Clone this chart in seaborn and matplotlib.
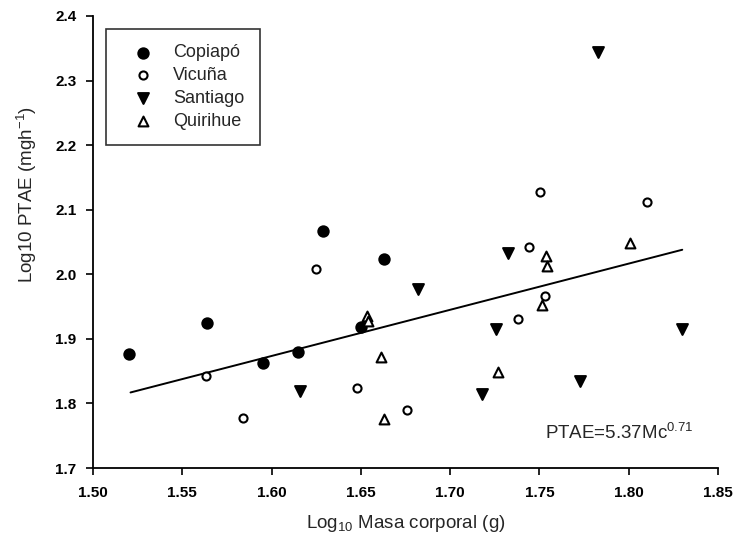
import matplotlib
matplotlib.use("Agg")
import matplotlib.pyplot as plt
import seaborn as sns
import pandas as pd

# Values
copiapoX = [1.520, 1.564, 1.595, 1.615, 1.629, 1.650, 1.663]
copiapoY = [1.877, 1.924, 1.863, 1.879, 2.067, 1.918, 2.024]

vicunaX = [1.563, 1.584, 1.625, 1.648, 1.676, 1.738, 1.744, 1.7505, 1.753, 1.810]
vicunaY = [1.842, 1.777, 2.008, 1.824, 1.790, 1.930, 2.042, 2.128, 1.967, 2.112]

santiagoX = [1.616, 1.682, 1.718, 1.7256, 1.7325, 1.7725, 1.7826, 1.8296]
santiagoY = [1.820, 1.977, 1.814, 1.915, 2.033, 1.835, 2.344, 1.915]

quirihueX = [1.6536, 1.654, 1.661, 1.663, 1.727, 1.7516, 1.7535, 1.754, 1.801]
quirihueY = [1.935, 1.927, 1.872, 1.776, 1.849, 1.953, 2.028, 2.013, 2.048]

fitX = [1.521, 1.830]
fitY = [1.817, 2.038]

xTicks = [1.50, 1.55, 1.60, 1.65, 1.70, 1.75, 1.80, 1.85]
yTicks = [1.7, 1.8, 1.9, 2.0, 2.1, 2.2, 2.3, 2.4]

sns.set_style("ticks")
plt.rcParams["font.family"] = ["Liberation Sans", "DejaVu Sans"]
plt.rcParams["mathtext.default"] = "regular"

fig = plt.figure(figsize=(7.36, 5.42), dpi=100)
ax = fig.add_axes([0.1264, 0.1365, 0.8491, 0.834])

groups = [
    ("Copiapó", copiapoX, copiapoY, "o", "black", 55),
    ("Vicuña", vicunaX, vicunaY, "o", "white", 34),
    ("Santiago", santiagoX, santiagoY, "v", "black", 60),
    ("Quirihue", quirihueX, quirihueY, "^", "white", 50),
]
for name, xs, ys, mk, face, size in groups:
    df = pd.DataFrame({"x": xs, "y": ys})
    sns.scatterplot(data=df, x="x", y="y", marker=mk, s=size, color=face,
                    edgecolor="black", linewidth=1.5, ax=ax, label=name,
                    zorder=3)

lineDf = pd.DataFrame({"x": fitX, "y": fitY})
sns.lineplot(data=lineDf, x="x", y="y", color="black", linewidth=1.4, ax=ax,
             zorder=2)

ax.set_xlim(1.50, 1.85)
ax.set_ylim(1.7, 2.4)
ax.set_xticks(xTicks)
ax.set_xticklabels([f"{v:.2f}" for v in xTicks], fontweight="bold")
ax.set_yticks(yTicks)
ax.set_yticklabels([f"{v:.1f}" for v in yTicks], fontweight="bold")
ax.tick_params(axis="both", direction="out", length=5, width=1.2,
               labelsize=11, colors="black")
ax.tick_params(axis="x", pad=8)
ax.tick_params(axis="y", pad=7)
for side in ["left", "bottom"]:
    ax.spines[side].set_linewidth(1.3)
    ax.spines[side].set_color("black")
sns.despine(ax=ax)

ax.set_xlabel("Log$_{10}$ Masa corporal (g)", fontsize=13.5, labelpad=9)
ax.set_ylabel("Log10 PTAE (mgh$^{-1}$)", fontsize=13.5)
ax.yaxis.set_label_coords(-0.087, 0.604)

ax.text(1.753, 1.754, "PTAE=5.37Mc$^{0.71}$", fontsize=13.5, va="center",
        ha="left")

leg = ax.legend(loc="upper left", bbox_to_anchor=(0.021, 0.971),
                borderaxespad=0, fontsize=13, frameon=True, fancybox=False,
                edgecolor="black", borderpad=0.85, handlelength=2.4,
                handletextpad=0.47, labelspacing=0.32)
leg.get_frame().set_linewidth(1.2)

fig.savefig("out.png", dpi=100)
